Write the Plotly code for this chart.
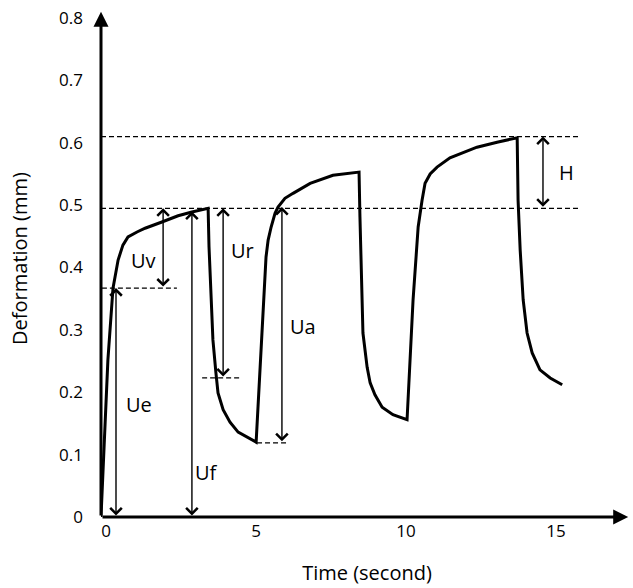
import plotly.graph_objects as go

# ---- data ----
# creep-recovery curve (time in s, deformation in mm)
time_s = [0, 0.23, 0.40, 0.47, 0.57, 0.73, 0.90, 1.20, 1.47, 2.03, 2.57, 3.03, 3.53,
          3.57, 3.60, 3.67, 3.73, 3.83, 3.90, 4.07, 4.30, 4.57, 4.87, 5.13,
          5.17, 5.50, 5.57, 5.67, 5.80, 5.90, 6.13, 6.40, 6.97, 7.73, 8.57,
          8.60, 8.63, 8.70, 8.73, 8.87, 8.97, 9.13, 9.37, 9.73, 10.20,
          10.40, 10.57, 10.70, 10.80, 10.97, 11.20, 11.63, 12.53, 13.20, 13.87,
          13.90, 13.97, 14.07, 14.20, 14.37, 14.63, 14.97, 15.37]
deform_mm = [0, 0.252, 0.367, 0.385, 0.412, 0.436, 0.449, 0.457, 0.463, 0.473, 0.483, 0.489, 0.495,
             0.495, 0.433, 0.353, 0.284, 0.231, 0.199, 0.172, 0.152, 0.136, 0.128, 0.122,
             0.120, 0.417, 0.444, 0.465, 0.487, 0.497, 0.511, 0.519, 0.535, 0.548, 0.553,
             0.553, 0.481, 0.375, 0.295, 0.240, 0.215, 0.196, 0.176, 0.164, 0.156,
             0.348, 0.465, 0.508, 0.535, 0.550, 0.561, 0.576, 0.593, 0.601, 0.608,
             0.508, 0.428, 0.348, 0.295, 0.263, 0.236, 0.223, 0.212]

# dashed reference lines: x start, x end, level
ref_x0 = [0, 0, 0.03, 3.37, 5.20]
ref_x1 = [15.97, 15.97, 2.53, 4.70, 6.20]
ref_y = [0.610, 0.495, 0.367, 0.223, 0.119]

# double-headed measurement arrows: x, bottom, top, and their labels
arrow_names = ['Ue', 'Uv', 'Uf', 'Ur', 'Ua', 'H']
arrow_x = [0.50, 2.07, 3.03, 4.07, 6.03, 14.73]
arrow_lo = [0.0, 0.367, 0.0, 0.223, 0.119, 0.495]
arrow_hi = [0.367, 0.495, 0.490, 0.495, 0.497, 0.610]
label_x = [1.27, 1.43, 3.53, 4.73, 6.73, 15.5]
label_y = [0.18, 0.412, 0.071, 0.427, 0.306, 0.553]

x_ticks = [0, 5, 10, 15]
y_ticks = [0, 0.1, 0.2, 0.3, 0.4, 0.5, 0.6, 0.7, 0.8]

FONT = 'Open Sans'

fig = go.Figure()

fig.add_trace(go.Scatter(
    x=time_s, y=deform_mm, mode='lines',
    line=dict(color='black', width=3),
    showlegend=False, hoverinfo='skip'
))

for x0, x1, y in zip(ref_x0, ref_x1, ref_y):
    fig.add_shape(type='line', x0=x0, x1=x1, y0=y, y1=y,
                  line=dict(color='black', width=1.3, dash='5px,3px'))

# measurement arrows
for name, x, lo, hi, lx, ly in zip(arrow_names, arrow_x, arrow_lo, arrow_hi,
                                   label_x, label_y):
    fig.add_annotation(x=x, y=hi, ax=x, ay=lo, axref='x', ayref='y',
                       text='', showarrow=True, arrowside='end+start',
                       arrowhead=4, startarrowhead=4,
                       arrowsize=1.6, startarrowsize=1.6,
                       arrowwidth=1.4, arrowcolor='black',
                       standoff=0, startstandoff=0)
    fig.add_annotation(x=lx, y=ly, text=name, showarrow=False,
                       font=dict(family=FONT, size=20, color='black'))

# axis lines with arrow tips
fig.add_annotation(x=17.57, y=0, ax=0, ay=0, axref='x', ayref='y',
                   text='', showarrow=True, arrowhead=2, arrowsize=1,
                   arrowwidth=3, arrowcolor='black', standoff=0)
fig.add_annotation(x=0, y=0.81, ax=0, ay=0, axref='x', ayref='y',
                   text='', showarrow=True, arrowhead=2, arrowsize=1,
                   arrowwidth=3, arrowcolor='black', standoff=0)

fig.update_layout(
    width=633, height=588,
    margin=dict(l=101, r=0, t=0, b=71),
    plot_bgcolor='white', paper_bgcolor='white',
    font=dict(family=FONT, color='black'),
    xaxis=dict(range=[0, 17.73], tickvals=x_ticks, showgrid=False,
               zeroline=False, showline=False, ticks='', automargin=False,
               ticklabelstandoff=2, ticklabelshift=5,
               tickfont=dict(size=17),
               title=dict(text='Time (second)', font=dict(size=20),
                          standoff=24)),
    yaxis=dict(range=[0, 0.829], tickvals=y_ticks, showgrid=False,
               zeroline=False, showline=False, ticks='', automargin=False,
               ticklabelstandoff=17, ticklabeloverflow='allow',
               tickfont=dict(size=17),
               title=dict(text='Deformation (mm)', font=dict(size=20),
                          standoff=26)),
)

# drop the default 8px page margin so the figure fills the window
fig.write_html("out.html", config={'displayModeBar': False},
               post_script="document.body.style.margin = '0';")
